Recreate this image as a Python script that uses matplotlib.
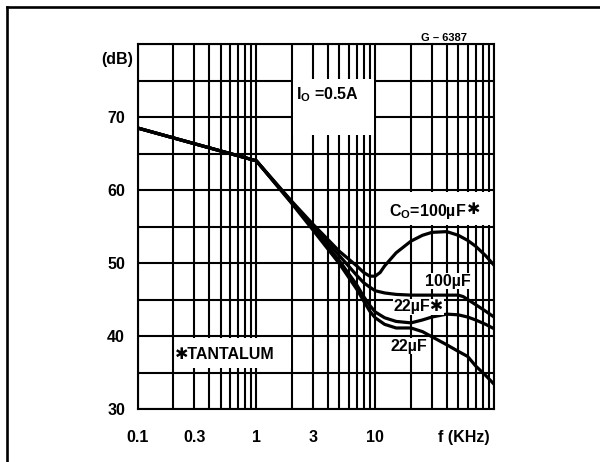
import numpy as np
import matplotlib.pyplot as plt
from matplotlib.lines import Line2D
from matplotlib.patches import Rectangle

plt.rcParams['font.family'] = ['Liberation Sans', 'DejaVu Sans']
plt.rcParams['font.weight'] = 'bold'
plt.rcParams['mathtext.fontset'] = 'custom'
plt.rcParams['mathtext.rm'] = 'Liberation Sans:bold'
plt.rcParams['mathtext.bf'] = 'Liberation Sans:bold'
plt.rcParams['mathtext.it'] = 'Liberation Sans:bold'

# Ripple rejection (dB) vs frequency (kHz)
f_co_tant = [0.1, 1, 2, 3, 5, 7, 8, 9, 10, 11, 12, 15, 20, 25, 30, 40, 50, 60, 70, 85, 100]
db_co_tant = [68.5, 64.0, 58.4, 55.3, 51.6, 49.6, 48.7, 48.2, 48.2, 48.7, 49.6, 51.4, 53.0,
              53.8, 54.2, 54.3, 53.8, 53.1, 52.3, 51.0, 49.7]

f_100 = [0.1, 1, 2, 3, 5, 7, 8, 9, 10, 12, 15, 20, 30, 50, 55, 70, 85, 100]
db_100 = [68.5, 64.0, 58.3, 55.0, 51.0, 48.3, 47.3, 46.7, 46.2, 45.9, 45.7, 45.6, 45.6,
          45.6, 45.4, 44.3, 43.4, 42.6]

f_22_tant = [0.1, 1, 2, 3, 5, 7, 8, 9, 10, 12, 15, 20, 25, 30, 40, 50, 60, 70, 85, 100]
db_22_tant = [68.5, 64.0, 58.2, 54.8, 50.3, 47.0, 45.4, 44.2, 43.3, 42.5, 42.0, 41.8, 42.2,
              42.6, 43.0, 42.9, 42.6, 42.2, 41.6, 41.0]

f_22 = [0.1, 1, 2, 3, 5, 7, 8, 9, 10, 12, 15, 20, 25, 30, 40, 50, 60, 70, 85, 100]
db_22 = [68.5, 64.0, 58.1, 54.5, 49.9, 46.4, 44.8, 43.4, 42.5, 41.6, 41.1, 41.1, 40.6,
         39.9, 38.8, 37.9, 37.2, 35.9, 34.6, 33.4]

x_ticks = [0.1, 0.3, 1, 3, 10, 56]
x_labels = ['0.1', '0.3', '1', '3', '10', 'f (KHz)']
y_ticks = [30, 40, 50, 60, 70]

fig = plt.figure(figsize=(6, 4.62), dpi=100)
ax = fig.add_axes([0.2292, 0.1147, 0.5942, 0.790])
ax.set_xscale('log')
ax.set_xlim(0.1, 100)
ax.set_ylim(30, 80)

# grid drawn by hand so every 1..9 line shows
grid_f = [m * 10.0 ** d for d in (-1, 0, 1) for m in range(1, 10)] + [100]
ax.vlines(grid_f, 30, 80, colors='k', lw=1.5, zorder=1)
ax.hlines(np.arange(30, 81, 5), 0.1, 100, colors='k', lw=1.5, zorder=1)

# white patches where the original grid is broken for the labels
for (x0, x1, y0, y1) in [(2.05, 9.8, 67.5, 75.2), (10.3, 98, 55.25, 59.75),
                         (0.206, 1.96, 35.6, 39.75)]:
    ax.add_patch(Rectangle((x0, y0), x1 - x0, y1 - y0, fc='white', ec='none', zorder=1.5))

for fx, db in [(f_co_tant, db_co_tant), (f_100, db_100), (f_22_tant, db_22_tant), (f_22, db_22)]:
    ax.plot(fx, db, color='k', lw=2.3, solid_joinstyle='round', zorder=3)

ax.set_xticks(x_ticks, x_labels)
ax.set_xticks([], minor=True)
ax.set_yticks(y_ticks, [str(v) for v in y_ticks])
ax.set_yticks([], minor=True)
ax.tick_params(axis='both', length=0, labelsize=11.5)
ax.tick_params(axis='x', pad=15)
ax.tick_params(axis='y', pad=9)
for s in ax.spines.values():
    s.set_linewidth(1.5)

fs = 11.5
box = dict(fc='white', ec='none', pad=0.5)
ax.text(-0.012, 77.9, '(dB)', transform=ax.get_yaxis_transform(), ha='right', va='center', fontsize=fs)
ax.text(2.15, 73.0, r'$\mathbf{I_O}$ =0.5A', ha='left', va='center', fontsize=fs, zorder=4)
co = ax.text(13.1, 57.0, r'C$_\mathbf{O}$=100µF', ha='left', va='center', fontsize=fs, zorder=4)
ax.annotate('✱', xy=(1, 0.62), xycoords=co, ha='left', va='center', fontsize=fs, zorder=4)
ax.text(40.7, 47.5, '100µF', ha='center', va='center', fontsize=fs, bbox=box, zorder=4)
ax.text(23.2, 44.0, '22µF✱', ha='center', va='center', fontsize=fs, bbox=box, zorder=4)
ax.text(19.1, 38.6, '22µF', ha='center', va='center', fontsize=fs, bbox=box, zorder=4)
ax.text(0.205, 37.4, '✱TANTALUM', ha='left', va='center', fontsize=fs, zorder=4)
ax.text(38, 80.8, 'G – 6387', ha='center', va='center', fontsize=8, clip_on=False)

# outer frame of the datasheet page
yt = 1 - 6.5 / 462
fig.add_artist(Line2D([7 / 600, 1], [yt, yt], color='k', lw=1.9))
fig.add_artist(Line2D([7 / 600, 7 / 600], [0, yt], color='k', lw=1.9))

fig.savefig('out.png', dpi=100, facecolor='white')
plt.close(fig)
